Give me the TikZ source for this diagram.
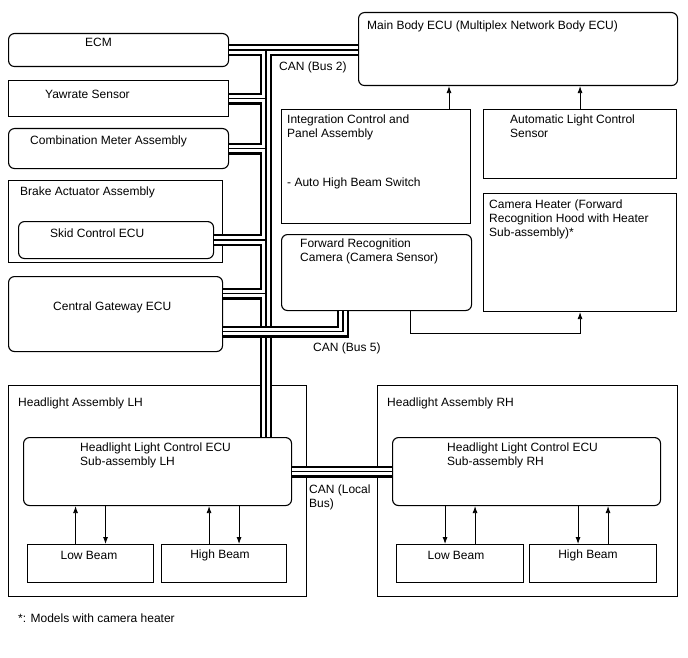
\documentclass[tikz,border=0pt]{standalone}
\usepackage{fontspec}
\setmainfont{Liberation Sans}
\usetikzlibrary{arrows.meta}
\newcommand{\labelfont}{\fontsize{12}{14}\selectfont}

\begin{document}
\begin{tikzpicture}[x=1pt, y=-1pt,
  box/.style={draw, line width=1.1pt, anchor=north west, inner sep=0pt},
  rbox/.style={box, rounded corners=6pt},
  txt/.style={inner sep=0pt, anchor=west, font=\labelfont},
  mtxt/.style={inner sep=0pt, anchor=north west, align=left, font=\labelfont},
  arr/.style={line width=0.8pt, -{Latex[length=7pt,width=5pt]}}
]
\useasboundingbox (0,0) rectangle (688,658);

% Left column
\node[rbox, minimum width=220pt, minimum height=33pt] (ecm) at (8,33) {};
\node[box, minimum width=220pt, minimum height=36pt] (yaw) at (8,80) {};
\node[rbox, minimum width=220pt, minimum height=40pt] (meter) at (8,128) {};
\node[box, minimum width=214pt, minimum height=82pt] (brake) at (8,180) {};
\node[rbox, minimum width=195pt, minimum height=37pt] (skid) at (18,221) {};
\node[rbox, minimum width=214pt, minimum height=75pt] (gateway) at (8,276) {};
\node[txt] (ecmtxt) at (85,42) {ECM};
\node[txt] (yawtxt) at (45,94) {Yawrate Sensor};
\node[txt] (metertxt) at (30,141) {Combination Meter Assembly};
\node[txt] (braketxt) at (20,192) {Brake Actuator Assembly};
\node[txt] (skidtxt) at (50,233) {Skid Control ECU};
\node[txt] (gatewaytxt) at (53,307) {Central Gateway ECU};

% Right column
\node[rbox, minimum width=319pt, minimum height=73pt] (mainbody) at (358,12) {};
\node[box, minimum width=189pt, minimum height=114pt] (integ) at (281,109) {};
\node[box, minimum width=193pt, minimum height=69pt] (autolight) at (483,109) {};
\node[box, minimum width=193pt, minimum height=118pt] (heater) at (483,193) {};
\node[rbox, minimum width=190pt, minimum height=76pt] (camera) at (281,234) {};
\node[txt] (mainbodytxt) at (367,26) {Main Body ECU (Multiplex Network Body ECU)};
\node[mtxt] (integtxt) at (287,115) {Integration Control and\\Panel Assembly};
\node[txt] (switchtxt) at (287,183) {- Auto High Beam Switch};
\node[mtxt] (autolighttxt) at (510,115) {Automatic Light Control\\Sensor};
\node[mtxt] (heatertxt) at (489,200) {Camera Heater (Forward\\Recognition Hood with Heater\\Sub-assembly)*};
\node[mtxt] (cameratxt) at (300,239) {Forward Recognition\\Camera (Camera Sensor)};

% Headlights
\node[box, minimum width=298pt, minimum height=211pt] (hlLH) at (8,385) {};
\node[rbox, minimum width=268pt, minimum height=68pt] (ecuLH) at (23,437) {};
\node[box, minimum width=126pt, minimum height=38pt] (lowLH) at (27,544) {};
\node[box, minimum width=125pt, minimum height=38pt] (highLH) at (161,544) {};
\node[box, minimum width=300pt, minimum height=211pt] (hlRH) at (377,385) {};
\node[rbox, minimum width=268pt, minimum height=68pt] (ecuRH) at (392,437) {};
\node[box, minimum width=127pt, minimum height=38pt] (lowRH) at (396,544) {};
\node[box, minimum width=127pt, minimum height=38pt] (highRH) at (529,544) {};
\node[txt] (hlLHtxt) at (18,403) {Headlight Assembly LH};
\node[mtxt] (ecuLHtxt) at (80,443) {Headlight Light Control ECU\\Sub-assembly LH};
\node[txt] (hlRHtxt) at (387,403) {Headlight Assembly RH};
\node[mtxt] (ecuRHtxt) at (447,443) {Headlight Light Control ECU\\Sub-assembly RH};
\node[inner sep=0pt, font=\labelfont] (lowLHtxt) at (89,555) {Low Beam};
\node[inner sep=0pt, font=\labelfont] (highLHtxt) at (220,555) {High Beam};
\node[inner sep=0pt, font=\labelfont] (lowRHtxt) at (456,555) {Low Beam};
\node[inner sep=0pt, font=\labelfont] (highRHtxt) at (588,555) {High Beam};

% Bus labels and note
\node[txt] (bus2txt) at (279,67) {CAN (Bus 2)};
\node[txt] (bus5txt) at (313,348) {CAN (Bus 5)};
\node[mtxt] (localtxt) at (309,485) {CAN (Local\\Bus)};
\node[txt] (notetxt) at (18,618) {*: Models with camera heater};

% CAN buses
\coordinate (trunk) at (266,0);
\coordinate (gw2) at ([yshift=20.5pt]gateway.east);
\coordinate (gw5) at ([yshift=-17.5pt]gateway.east);
\coordinate (b5) at (343,0);
\foreach \lw/\col in {12pt/black, 7.5pt/white, 1.5pt/black}
  \draw[line width=\lw, draw=\col]
    (ecm.east) -- (mainbody.west |- ecm.east)
    (trunk |- ecm.east) -- (trunk |- ecuLH.north)
    (yaw.east) -- (trunk |- yaw.east)
    (meter.east) -- (trunk |- meter.east)
    (skid.east) -- (trunk |- skid.east)
    (gw2) -- (trunk |- gw2)
    (ecuLH.east) -- (ecuRH.west);
\foreach \lw/\col in {12pt/black, 7.5pt/white, 1.5pt/black}
  \draw[line width=\lw, draw=\col] (gw5) -| (b5 |- camera.south);

% Signal arrows
\draw[arr] (integ.north -| 449,0) -- (mainbody.south -| 449,0);
\draw[arr] (autolight.north) -- (mainbody.south -| autolight.north);
\draw[arr] (camera.south -| 410,0) -- ++(0,22) -| (heater.south);
\foreach \b in {lowLH, highLH} {
  \draw[arr] ([xshift=-15pt]\b.north) -- ([xshift=-15pt]\b.north |- ecuLH.south);
  \draw[arr] ([xshift=15pt]\b.north |- ecuLH.south) -- ([xshift=15pt]\b.north);
}
\foreach \b in {lowRH, highRH} {
  \draw[arr] ([xshift=-15pt]\b.north |- ecuRH.south) -- ([xshift=-15pt]\b.north);
  \draw[arr] ([xshift=15pt]\b.north) -- ([xshift=15pt]\b.north |- ecuRH.south);
}
\end{tikzpicture}
\end{document}
